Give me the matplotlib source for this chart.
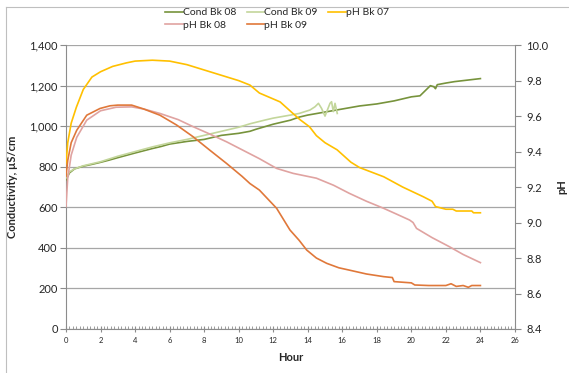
import matplotlib
matplotlib.use('Agg')
import matplotlib.pyplot as plt
from matplotlib.lines import Line2D
from matplotlib.ticker import FuncFormatter, MultipleLocator

plt.rcParams['font.family'] = ['Lato', 'DejaVu Sans']

# Conductivity (uS/cm), left axis
hours_c08 = [0, 0.2, 0.5, 1, 1.5, 2, 2.5, 3, 4, 5, 5.5, 6, 7, 7.5, 8, 9, 10, 10.65, 11,
             12, 13, 13.5, 14, 15, 16, 17, 18, 19, 19.5, 20, 20.5, 20.8, 21.1, 21.3,
             21.4, 21.5, 22, 22.5, 23, 23.5, 24]
cond_bk08 = [735, 770, 790, 803, 812, 822, 833, 845, 868, 890, 900, 912, 925, 930, 935,
             955, 965, 975, 985, 1010, 1030, 1045, 1055, 1070, 1085, 1100, 1110, 1125,
             1135, 1145, 1150, 1175, 1200, 1195, 1185, 1205, 1213, 1220, 1225, 1230, 1235]

hours_c09 = [0, 0.2, 0.5, 1, 2, 3, 4, 5, 6, 7, 8, 9, 10, 10.65, 11.5, 12, 13, 13.5,
             14.13, 14.42, 14.62, 14.8, 15.0, 15.1, 15.29, 15.38, 15.48, 15.58, 15.71]
cond_bk09 = [745, 775, 790, 805, 825, 852, 875, 898, 918, 935, 955, 975, 995, 1012, 1030,
             1040, 1055, 1063, 1080, 1096, 1113, 1088, 1050, 1072, 1113, 1121, 1072, 1113,
             1063]

# pH, right axis
hours_p07 = [0, 0.1, 0.3, 0.6, 1, 1.5, 2, 2.7, 3.5, 4, 5, 6, 7, 8, 9, 10, 10.65, 11.2,
             12.4, 13.2, 13.55, 14.1, 14.5, 15, 15.7, 16.5, 17, 18.4, 19.5, 20.7, 21.2,
             21.4, 22, 22.4, 22.6, 23.5, 23.6, 24]
ph_bk07 = [9.33, 9.45, 9.56, 9.65, 9.75, 9.82, 9.85, 9.88, 9.90, 9.91, 9.915, 9.91, 9.89,
           9.86, 9.83, 9.80, 9.775, 9.73, 9.68, 9.61, 9.58, 9.54, 9.49, 9.45, 9.41, 9.34,
           9.31, 9.258, 9.20, 9.145, 9.12, 9.09, 9.075, 9.075, 9.065, 9.065, 9.055, 9.055]

hours_p08 = [0, 0.1, 0.3, 0.62, 1.2, 2, 2.9, 3.8, 4.5, 5.44, 6.5, 7.37, 8.3, 9.3, 10.2,
             11.2, 12.2, 13.16, 14.5, 15.5, 16.4, 17.4, 18.4, 19.2, 19.9, 20.1, 20.3,
             21.2, 22.2, 23, 24]
ph_bk08 = [9.09, 9.25, 9.38, 9.48, 9.577, 9.63, 9.65, 9.652, 9.64, 9.615, 9.58, 9.54, 9.50,
           9.455, 9.41, 9.36, 9.305, 9.277, 9.25, 9.21, 9.165, 9.12, 9.08, 9.045, 9.014,
           9.0, 8.967, 8.915, 8.864, 8.82, 8.774]

hours_p09 = [0, 0.1, 0.3, 0.62, 1.2, 1.97, 2.55, 3, 3.8, 4.5, 5.44, 6.4, 7.37, 8.3, 9.3,
             10.2, 10.65, 11.2, 12.2, 12.97, 13.5, 13.94, 14.5, 15.1, 15.8, 16.4, 17.4,
             18.4, 18.9, 19.0, 20, 20.2, 21, 22, 22.3, 22.6, 23, 23.3, 23.5, 24]
ph_bk09 = [9.26, 9.35, 9.45, 9.52, 9.605, 9.643, 9.658, 9.662, 9.662, 9.64, 9.605, 9.55,
           9.483, 9.41, 9.333, 9.26, 9.22, 9.183, 9.08, 8.958, 8.90, 8.845, 8.80, 8.77,
           8.745, 8.732, 8.71, 8.695, 8.69, 8.667, 8.66, 8.648, 8.645, 8.645, 8.655, 8.64,
           8.645, 8.635, 8.645, 8.645]

txt = '#262626'
axis_gray = '#8c8c8c'
lw = 1.2

fig = plt.figure(figsize=(5.69, 3.73), dpi=100)
ax1 = fig.add_axes([0.116, 0.118, 0.789, 0.761])

# chart frame
fig.add_artist(Line2D([6 / 569, 1], [1 - 7 / 373, 1 - 7 / 373], color='#bfbfbf', lw=0.8))
fig.add_artist(Line2D([6 / 569, 6 / 569], [0, 1 - 7 / 373], color='#bfbfbf', lw=0.8))

l1, = ax1.plot(hours_c08, cond_bk08, color='#77933C', lw=lw, label='Cond Bk 08', zorder=3)
l2, = ax1.plot(hours_c09, cond_bk09, color='#C3D69B', lw=lw, label='Cond Bk 09', zorder=3)
ax1.set_xlim(0, 26)
ax1.set_ylim(0, 1400)
ax1.yaxis.set_major_locator(MultipleLocator(200))
ax1.yaxis.set_major_formatter(FuncFormatter(lambda v, p: f'{int(v):,}'))
ax1.xaxis.set_major_locator(MultipleLocator(2))
ax1.xaxis.set_minor_locator(MultipleLocator(0.2))
ax1.grid(axis='y', color='#a6a6a6', lw=0.9)
ax1.set_axisbelow(True)
for s in ['top', 'right']:
    ax1.spines[s].set_visible(False)
for s in ['left', 'bottom']:
    ax1.spines[s].set_color(axis_gray)
ax1.tick_params(axis='y', labelsize=8, colors=axis_gray, labelcolor=txt, length=4, width=0.8, pad=2)
ax1.tick_params(axis='x', which='major', labelsize=5.5, colors=axis_gray, labelcolor=txt,
                direction='inout', length=5, width=0.8, pad=3)
ax1.tick_params(axis='x', which='minor', colors=axis_gray, direction='in', length=2, width=0.6)
ax1.set_xlabel('Hour', fontsize=8, fontweight='bold', color=txt, labelpad=6)
ax1.set_ylabel('Conductivity, µS/cm', fontsize=8, fontweight='bold', color=txt, labelpad=8)

ax2 = ax1.twinx()
l3, = ax2.plot(hours_p07, ph_bk07, color='#FFC000', lw=lw, label='pH Bk 07')
l4, = ax2.plot(hours_p08, ph_bk08, color='#E0A3A1', lw=lw, label='pH Bk 08')
l5, = ax2.plot(hours_p09, ph_bk09, color='#E0783A', lw=lw, label='pH Bk 09')
ax2.set_ylim(8.4, 10.0)
ax2.yaxis.set_major_locator(MultipleLocator(0.2))
ax2.yaxis.set_major_formatter(FuncFormatter(lambda v, p: f'{v:.1f}'))
for s in ['top', 'left', 'bottom']:
    ax2.spines[s].set_visible(False)
ax2.spines['right'].set_color(axis_gray)
ax2.tick_params(axis='y', labelsize=8, colors=axis_gray, labelcolor=txt, length=4, width=0.8, pad=4)
ax2.set_ylabel('pH', fontsize=8, fontweight='bold', color=txt, labelpad=6)

# legend laid out row by row
handles = [l1, l4, l2, l5, l3]
fig.legend(handles=handles, labels=[h.get_label() for h in handles], ncol=3,
           loc='upper left', bbox_to_anchor=(0.283, 0.99), frameon=False, fontsize=7.5,
           handlelength=1.7, handletextpad=0.0, columnspacing=1.0, labelspacing=0.35,
           labelcolor=txt, borderaxespad=0)

fig.savefig('out.png', dpi=100)
